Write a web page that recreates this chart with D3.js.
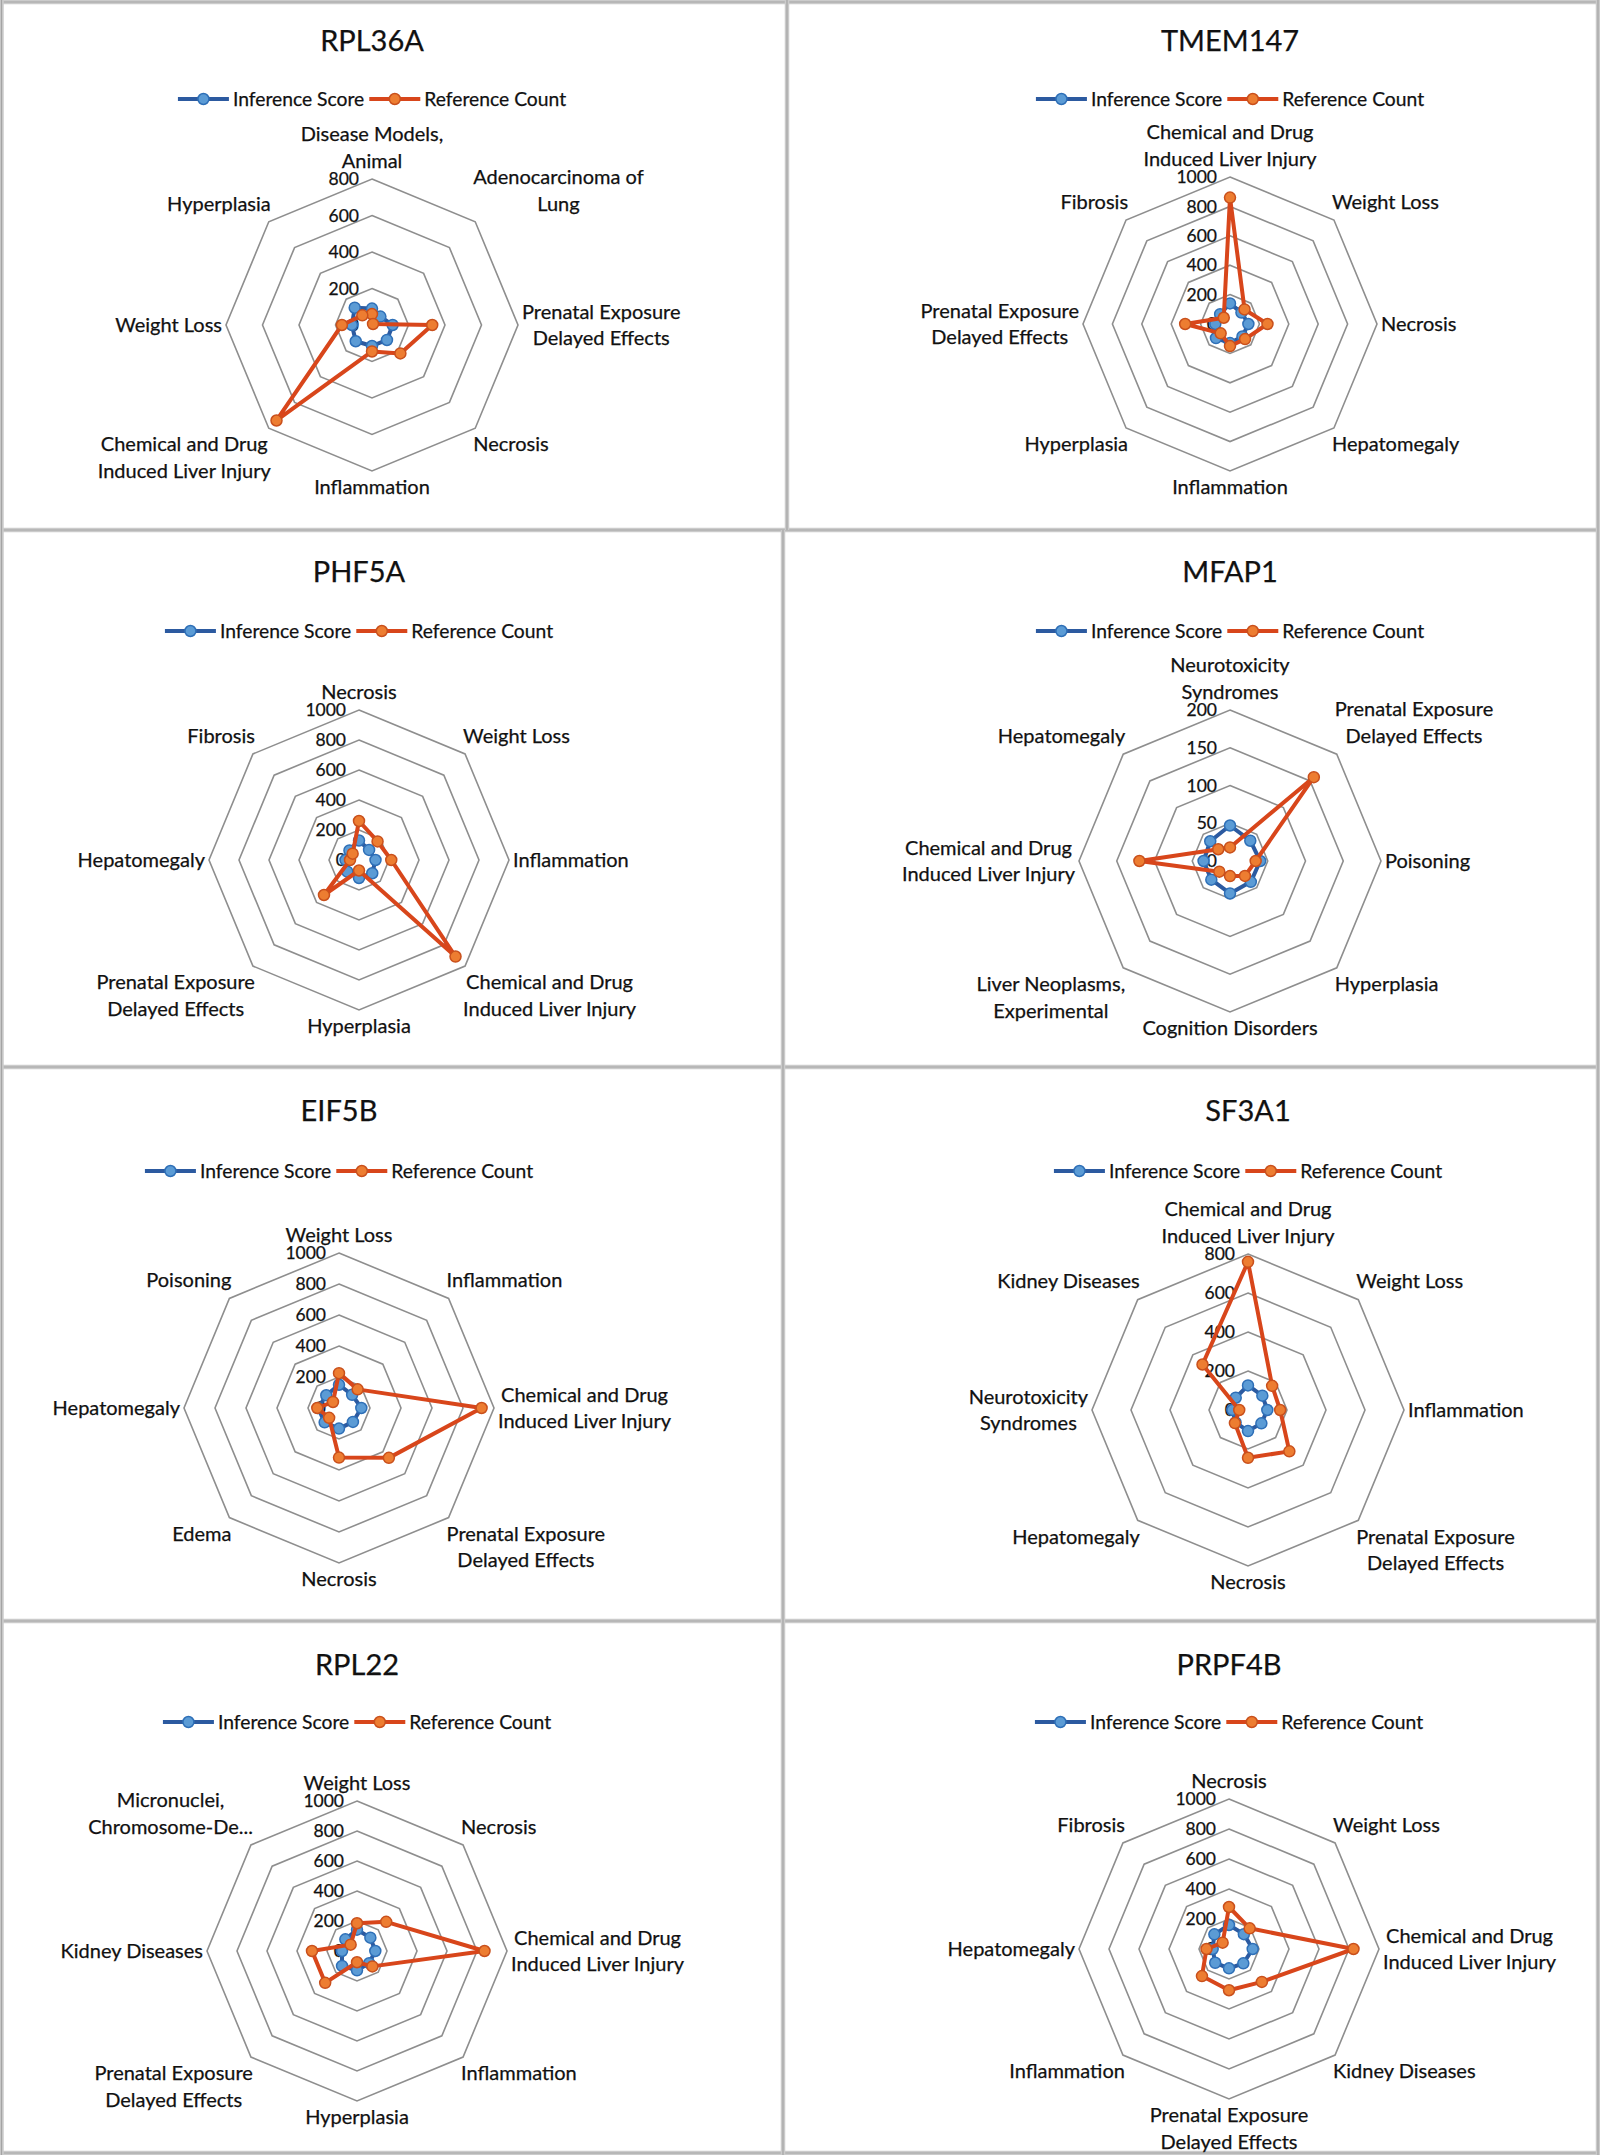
<!DOCTYPE html>
<html>
<head>
<meta charset="utf-8">
<script src="https://cdn.jsdelivr.net/npm/d3@7"></script>
<style>
  body { margin: 0; background: #fff; }
  text { font-family: Lato, "Open Sans", sans-serif; fill: #111; stroke: #111; stroke-width: 0.25px; }
</style>
</head>
<body>
<div id="vis-container"></div>
<script>
const width = 1600,
    height = 2155;

// ---- data ----
const seriesNames = ["Inference Score", "Reference Count"];

const rpl36aCategories = ["Disease Models,\nAnimal", "Adenocarcinoma of\nLung", "Prenatal Exposure\nDelayed Effects", "Necrosis", "Inflammation", "Chemical and Drug\nInduced Liver Injury", "Weight Loss", "Hyperplasia"];
const rpl36aInference = [90, 65, 113, 116, 115, 126, 110, 134];
const rpl36aReference = [60, 8, 330, 220, 145, 740, 165, 75];
const rpl36aTicks = [0, 200, 400, 600, 800];

const tmem147Categories = ["Chemical and Drug\nInduced Liver Injury", "Weight Loss", "Necrosis", "Hepatomegaly", "Inflammation", "Hyperplasia", "Prenatal Exposure\nDelayed Effects", "Fibrosis"];
const tmem147Inference = [140, 110, 125, 120, 130, 135, 100, 95];
const tmem147Reference = [860, 140, 255, 145, 150, 90, 305, 60];
const tmem147Ticks = [0, 200, 400, 600, 800, 1000];

const phf5aCategories = ["Necrosis", "Weight Loss", "Inflammation", "Chemical and Drug\nInduced Liver Injury", "Hyperplasia", "Prenatal Exposure\nDelayed Effects", "Hepatomegaly", "Fibrosis"];
const phf5aInference = [130, 95, 110, 125, 120, 110, 90, 90];
const phf5aReference = [260, 175, 215, 910, 70, 330, 60, 60];
const phf5aTicks = [0, 200, 400, 600, 800, 1000];

const mfap1Categories = ["Neurotoxicity\nSyndromes", "Prenatal Exposure\nDelayed Effects", "Poisoning", "Hyperplasia", "Cognition Disorders", "Liver Neoplasms,\nExperimental", "Chemical and Drug\nInduced Liver Injury", "Hepatomegaly"];
const mfap1Inference = [47, 38, 40, 39, 43, 35, 35, 37];
const mfap1Reference = [18, 157, 34, 28, 20, 20, 120, 22];
const mfap1Ticks = [0, 50, 100, 150, 200];

const eif5bCategories = ["Weight Loss", "Inflammation", "Chemical and Drug\nInduced Liver Injury", "Prenatal Exposure\nDelayed Effects", "Necrosis", "Edema", "Hepatomegaly", "Poisoning"];
const eif5bInference = [150, 120, 144, 127, 133, 131, 135, 116];
const eif5bReference = [225, 170, 920, 455, 320, 90, 140, 55];
const eif5bTicks = [0, 200, 400, 600, 800, 1000];

const sf3a1Categories = ["Chemical and Drug\nInduced Liver Injury", "Weight Loss", "Inflammation", "Prenatal Exposure\nDelayed Effects", "Necrosis", "Hepatomegaly", "Neurotoxicity\nSyndromes", "Kidney Diseases"];
const sf3a1Inference = [126, 104, 99, 97, 108, 90, 80, 89];
const sf3a1Reference = [760, 175, 165, 300, 245, 95, 45, 330];
const sf3a1Ticks = [0, 200, 400, 600, 800];

const rpl22Categories = ["Weight Loss", "Necrosis", "Chemical and Drug\nInduced Liver Injury", "Inflammation", "Hyperplasia", "Prenatal Exposure\nDelayed Effects", "Kidney Diseases", "Micronuclei,\nChromosome-De..."];
const rpl22Inference = [142, 126, 122, 115, 129, 141, 100, 110];
const rpl22Reference = [185, 275, 850, 145, 75, 300, 300, 60];
const rpl22Ticks = [0, 200, 400, 600, 800, 1000];

const prpf4bCategories = ["Necrosis", "Weight Loss", "Chemical and Drug\nInduced Liver Injury", "Kidney Diseases", "Prenatal Exposure\nDelayed Effects", "Inflammation", "Hepatomegaly", "Fibrosis"];
const prpf4bInference = [160, 140, 158, 135, 129, 130, 109, 138];
const prpf4bReference = [280, 195, 830, 310, 275, 255, 150, 60];
const prpf4bTicks = [0, 200, 400, 600, 800, 1000];

// ---- layout (page pixels) ----
const panels = [
  {title: "RPL36A",  cats: rpl36aCategories,  inf: rpl36aInference,  ref: rpl36aReference,  ticks: rpl36aTicks,  cx: 372,  cy: 325,  r: 146, ty: 41,   ly: 99},
  {title: "TMEM147", cats: tmem147Categories, inf: tmem147Inference, ref: tmem147Reference, ticks: tmem147Ticks, cx: 1230, cy: 324,  r: 147, ty: 41,   ly: 99},
  {title: "PHF5A",   cats: phf5aCategories,   inf: phf5aInference,   ref: phf5aReference,   ticks: phf5aTicks,   cx: 359,  cy: 860,  r: 150, ty: 572,  ly: 631},
  {title: "MFAP1",   cats: mfap1Categories,   inf: mfap1Inference,   ref: mfap1Reference,   ticks: mfap1Ticks,   cx: 1230, cy: 861,  r: 151, ty: 572,  ly: 631},
  {title: "EIF5B",   cats: eif5bCategories,   inf: eif5bInference,   ref: eif5bReference,   ticks: eif5bTicks,   cx: 339,  cy: 1408, r: 155, ty: 1111, ly: 1171},
  {title: "SF3A1",   cats: sf3a1Categories,   inf: sf3a1Inference,   ref: sf3a1Reference,   ticks: sf3a1Ticks,   cx: 1248, cy: 1410, r: 156, ty: 1111, ly: 1171},
  {title: "RPL22",   cats: rpl22Categories,   inf: rpl22Inference,   ref: rpl22Reference,   ticks: rpl22Ticks,   cx: 357,  cy: 1951, r: 150, ty: 1665, ly: 1722},
  {title: "PRPF4B",  cats: prpf4bCategories,  inf: prpf4bInference,  ref: prpf4bReference,  ticks: prpf4bTicks,  cx: 1229, cy: 1949, r: 150, ty: 1665, ly: 1722}
];

const colors = {
  inf: {line: "#2c5aa0", fill: "#5b9bd5", stroke: "#2e6fb7"},
  ref: {line: "#d8461b", fill: "#ed7d31", stroke: "#c9501c"}
};

const labelSize = 20, lineH = 26.5;

var svg = d3.select("#vis-container").append("svg")
    .attr("width", width)
    .attr("height", height);

// panel frames
var frames = svg.append("g");
function frameLine(x1, y1, x2, y2) {
  frames.append("line").attr("x1", x1).attr("y1", y1).attr("x2", x2).attr("y2", y2)
    .attr("stroke", "#cbcbcb").attr("stroke-width", 4.5);
  frames.append("line").attr("x1", x1).attr("y1", y1).attr("x2", x2).attr("y2", y2)
    .attr("stroke", "#a4a4a4").attr("stroke-width", 1.2);
}
[2, 530, 1067, 1621, 2153].forEach(y => frameLine(0, y, width, y));
frameLine(1.5, 0, 1.5, height);
frameLine(1598, 0, 1598, height);
frameLine(787, 0, 787, 530);
frameLine(783, 530, 783, height);

panels.forEach(function(p) {
  var n = p.cats.length;
  var max = d3.max(p.ticks);
  var rScale = d3.scaleLinear().domain([0, max]).range([0, p.r]);
  var aScale = d3.scaleLinear().domain([0, n]).range([0, 2 * Math.PI]);

  var g = svg.append("g").attr("transform", "translate(" + p.cx + "," + p.cy + ")");

  // title
  svg.append("text").attr("x", p.cx).attr("y", p.ty).attr("dy", "0.35em")
    .attr("text-anchor", "middle").attr("font-size", 29).text(p.title);

  // legend
  var leg = svg.append("g");
  var lx = 0;
  [p.inf, p.ref].forEach(function(d, k) {
    var c = k === 0 ? colors.inf : colors.ref;
    leg.append("line").attr("x1", lx).attr("x2", lx + 51).attr("y1", 0).attr("y2", 0)
      .attr("stroke", c.line).attr("stroke-width", 4);
    leg.append("circle").attr("cx", lx + 25.5).attr("cy", 0).attr("r", 5.5)
      .attr("fill", c.fill).attr("stroke", c.stroke).attr("stroke-width", 1.5);
    var t = leg.append("text").attr("x", lx + 55).attr("y", 0).attr("dy", "0.35em")
      .attr("font-size", 19.3).text(seriesNames[k]);
    lx += 55 + t.node().getComputedTextLength() + 5;
  });
  leg.attr("transform", "translate(" + (p.cx - (lx - 5) / 2) + "," + p.ly + ")");

  // rings
  var ring = d3.lineRadial()
    .angle((d, i) => aScale(i))
    .radius(d => rScale(d))
    .curve(d3.curveLinearClosed);
  g.selectAll(".ring").data(p.ticks.filter(t => t > 0)).enter().append("path")
    .attr("d", t => ring(d3.range(n).map(() => t)))
    .attr("fill", "none").attr("stroke", "#8e8e8e").attr("stroke-width", 1.6);

  // tick labels
  g.selectAll(".tick").data(p.ticks).enter().append("text")
    .attr("x", -13).attr("y", t => -rScale(t)).attr("dy", "0.35em")
    .attr("text-anchor", "end").attr("font-size", 17.5)
    .text(t => t);

  // category labels
  p.cats.forEach(function(cat, i) {
    var a = aScale(i);
    var s = Math.sin(a), c = -Math.cos(a);
    var vx = p.r * s, vy = p.r * c;
    var lines = cat.split("\n");
    var t = g.append("text").attr("font-size", labelSize).attr("text-anchor", "middle");
    var spans = lines.map(l => t.append("tspan").attr("x", 0).text(l));
    var w = d3.max(spans, sp => sp.node().getComputedTextLength());
    var h = lines.length * lineH;
    var diag = Math.abs(s) > 0.1 && Math.abs(c) > 0.1;
    var gx = diag ? -2 : 4;
    var bx = s > 0.1 ? vx + gx + w / 2 : (s < -0.1 ? vx - gx - w / 2 : vx);
    var by = c < -0.1 ? vy - 5 - h / 2 : (c > 0.1 ? vy + 3 + h / 2 : vy);
    spans.forEach(function(sp, j) {
      sp.attr("x", bx).attr("y", by - h / 2 + lineH * (j + 0.5)).attr("dy", "0.35em");
    });
  });

  // series
  var line = d3.lineRadial()
    .angle((d, i) => aScale(i))
    .radius(d => rScale(d))
    .curve(d3.curveLinearClosed);
  [["inf", p.inf], ["ref", p.ref]].forEach(function(sr) {
    var c = colors[sr[0]];
    var sg = g.append("g");
    sg.append("path").attr("d", line(sr[1]))
      .attr("fill", "none").attr("stroke", c.line).attr("stroke-width", 4)
      .attr("stroke-linejoin", "round");
    sg.selectAll("circle").data(sr[1]).enter().append("circle")
      .attr("cx", (d, i) => rScale(d) * Math.sin(aScale(i)))
      .attr("cy", (d, i) => -rScale(d) * Math.cos(aScale(i)))
      .attr("r", 5.5)
      .attr("fill", c.fill).attr("stroke", c.stroke).attr("stroke-width", 1.5);
  });
});
</script>
</body>
</html>
